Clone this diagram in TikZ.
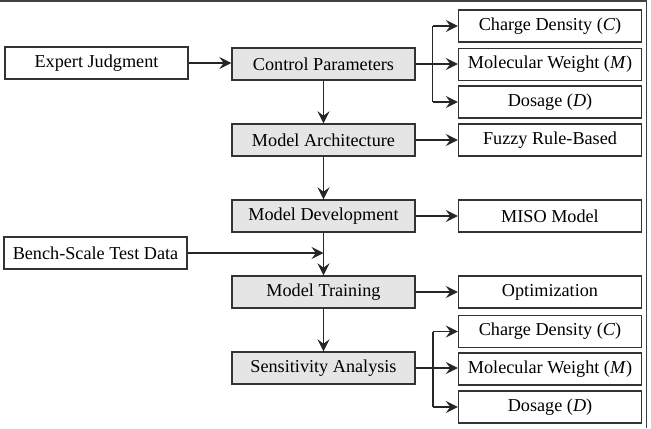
\documentclass[tikz,border=0pt]{standalone}
\usepackage{fontspec}
\setmainfont{Liberation Serif}
\usetikzlibrary{arrows.meta}
\begin{document}
\begin{tikzpicture}[x=0.5pt,y=-0.5pt,
  box/.style={draw=black!80,line width=0.7pt,minimum width=91.5pt,minimum height=16pt,inner sep=0pt,font=\fontsize{9.1}{10}\selectfont},
  mainbox/.style={box,fill=black!10},
  arr/.style={draw=black!85,line width=0.7pt,-{Stealth[length=6pt,width=6pt,inset=2.2pt]}},
  ln/.style={draw=black!85,line width=0.7pt}]
\useasboundingbox (0,0) rectangle (651,428);
\draw[black!75,line width=0.8pt] (0,0.8) -- (646.5,0.8) -- (646.5,428);
% main column
\node[mainbox] (ctrl) at (323.5,64) {Control Parameters};
\node[mainbox] (arch) at (323.5,140) {Model Architecture};
\node[mainbox] (dev) at (323.5,216) {Model Development};
\node[mainbox] (train) at (323.5,292) {Model Training};
\node[mainbox] (sens) at (323.5,368) {Sensitivity Analysis};
% left inputs
\node[box] (expert) at (96.5,63) {Expert Judgment};
\node[box] (bench) at (95.5,253) {Bench-Scale Test Data};
% right outputs
\node[box] (cd1) at (550,26) {Charge Density (\textit{C})};
\node[box] (mw1) at (550,64.5) {Molecular Weight (\textit{M})};
\node[box] (dos1) at (550,102) {Dosage (\textit{D})};
\node[box] (fuzzy) at (550,140) {Fuzzy Rule-Based};
\node[box] (miso) at (550,216) {MISO Model};
\node[box] (opt) at (550,292) {Optimization};
\node[box] (cd2) at (550,331.5) {Charge Density (\textit{C})};
\node[box] (mw2) at (550,369) {Molecular Weight (\textit{M})};
\node[box] (dos2) at (550,407) {Dosage (\textit{D})};
\coordinate (j1) at (432.5,64);
\coordinate (j2) at (433,368);
% connectors
\draw[arr] (expert.east) -- (expert.east -| ctrl.west);
\draw[arr] (ctrl) -- (arch);
\draw[arr] (arch) -- (dev);
\draw[arr] (dev) -- (train);
\draw[arr] (train) -- (sens);
\draw[arr] (bench.east) -- (bench.east -| dev.south);
\draw[ln] (ctrl.east) -- (j1);
\draw[arr] (j1 |- cd1) -- (cd1.west);
\draw[arr] (j1) -- (mw1.west |- j1);
\draw[arr] (j1 |- dos1) -- (dos1.west);
\draw[ln] (j1 |- cd1) -- (j1 |- dos1);
\draw[arr] (arch.east) -- (fuzzy.west);
\draw[arr] (dev.east) -- (miso.west);
\draw[arr] (train.east) -- (opt.west);
\draw[ln] (sens.east) -- (j2);
\draw[arr] (j2 |- cd2) -- (cd2.west);
\draw[arr] (j2) -- (mw2.west |- j2);
\draw[arr] (j2 |- dos2) -- (dos2.west);
\draw[ln] (j2 |- cd2) -- (j2 |- dos2);
\end{tikzpicture}
\end{document}
